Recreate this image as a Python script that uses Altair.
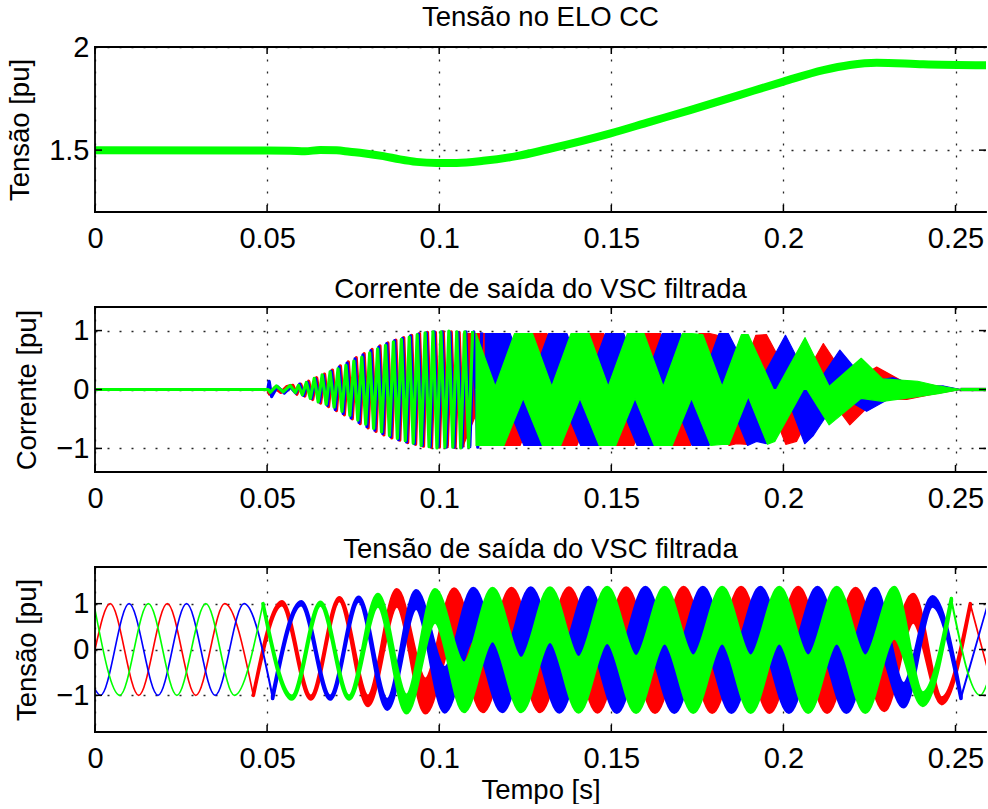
import altair as alt
import pandas as pd

RED, BLUE, GREEN = "#ff0000", "#0000ff", "#00ff00"
FONT = "Liberation Sans"
W, H = 891, 165
T_MAX = 0.25886

x_ticks = [0, 0.05, 0.1, 0.15, 0.2, 0.25]

# ---------------- Panel 1: DC link voltage ----------------
dc_t = [0, 0.045, 0.0567, 0.061, 0.0654, 0.0702, 0.074, 0.078, 0.0838, 0.0886, 0.0934,
        0.0993, 0.1051, 0.1128, 0.1225, 0.1312, 0.1498, 0.1612, 0.1729, 0.1874, 0.2,
        0.2116, 0.2193, 0.2271, 0.2406, 0.2594]
dc_v = [1.5, 1.498, 1.497, 1.494, 1.501, 1.499, 1.492, 1.485, 1.471, 1.455, 1.443,
        1.438, 1.438, 1.448, 1.471, 1.503, 1.581, 1.637, 1.694, 1.768, 1.832,
        1.888, 1.913, 1.924, 1.916, 1.911]
dc_yticks = [1.5, 2]

# ---------------- Panel 2: filtered VSC output current ----------------
cur_yticks = [-1, 0, 1]
HF_STEP = 0.00115      # half period of the fast oscillation
CUR_W = 0.0056         # half width of the clipped notches

cur_red_early_t = [0, 0.0502, 0.0507, 0.0522, 0.0540, 0.0557]
cur_red_early_v = [0, 0, -0.08, 0.03, -0.05, 0.05]
cur_blue_early_t = [0, 0.0502, 0.0506, 0.0513, 0.0530, 0.0550, 0.0568]
cur_blue_early_v = [0, 0, 0.14, -0.12, 0.05, -0.06, 0.04]
cur_green_early_t = [0, 0.0503, 0.0509, 0.0527, 0.0547, 0.0567, 0.0582]
cur_green_early_v = [0, 0, -0.05, 0.06, -0.04, 0.07, -0.05]

cur_red_hf_t0 = 0.0575
cur_red_hf = [0.07, -0.08, 0.09, -0.11, 0.14, -0.17, 0.20, -0.23, 0.26, -0.29,
              0.33, -0.36, 0.40, -0.43, 0.47, -0.50, 0.54, -0.58, 0.61, -0.65,
              0.68, -0.71, 0.74, -0.77, 0.79, -0.82, 0.84, -0.86, 0.88, -0.90,
              0.92, -0.93, 0.95, -0.96, 0.97, -0.98, 0.97, -0.98, 0.98, -0.97,
              0.98, -0.98, 0.97, -0.98, 0.98, -0.97, 0.98, -0.98, 0.97, -0.98]
cur_blue_hf_t0 = 0.0583
cur_blue_hf = [-0.06, 0.09, -0.10, 0.12, -0.15, 0.18, -0.21, 0.24, -0.27, 0.31,
               -0.34, 0.38, -0.41, 0.45, -0.48, 0.52, -0.56, 0.59, -0.63, 0.66,
               -0.69, 0.72, -0.75, 0.78, -0.80, 0.83, -0.85, 0.87, -0.89, 0.91,
               -0.92, 0.94, -0.95, 0.96, -0.97, 0.98, -0.97, 0.98, -0.98, 0.97,
               -0.98, 0.97, -0.98, 0.98, -0.97, 0.98, -0.98, 0.97, -0.98, 0.98]
cur_green_hf_t0 = 0.0591
cur_green_hf = [0.07, -0.09, 0.12, -0.15, 0.19, -0.21, 0.25, -0.25, 0.30, -0.30,
                0.35, -0.37, 0.41, -0.44, 0.48, -0.52, 0.55, -0.59, 0.62, -0.66,
                0.69, -0.72, 0.75, -0.78, 0.81, -0.83, 0.85, -0.87, 0.89, -0.91,
                0.93, -0.95, 0.96, -0.97, 0.98, -0.99, 0.98, -0.98, 0.99, -0.98,
                0.98, -0.99, 0.98, -0.98, 0.99, -0.98, 0.98, -0.99, 0.98, -0.98]

cur_red_bt = [0.1126, 0.1204, 0.1291, 0.1369, 0.1456, 0.1534, 0.1621, 0.1699, 0.1786,
              0.1864, 0.1951, 0.2038, 0.2116, 0.2193, 0.2271, 0.2358, 0.2434]
cur_red_hi = [0.95, 0.05, 0.95, 0.05, 0.95, 0.05, 0.95, 0.05, 0.95,
              0.05, 0.93, -0.02, 0.78, 0.1, 0.38, 0.1, 0.07]
cur_red_lo = [-0.15, -0.95, -0.15, -0.95, -0.15, -0.95, -0.15, -0.95, -0.15,
              -0.92, -0.1, -0.88, 0.0, -0.6, -0.15, -0.17, -0.08]

cur_blue_bt = [0.1190, 0.1262, 0.1355, 0.1427, 0.1519, 0.1592, 0.1679, 0.1757, 0.1840,
               0.1922, 0.2006, 0.2087, 0.2164, 0.2242, 0.2319, 0.2397, 0.2465]
cur_blue_hi = [0.95, 0.05, 0.95, 0.05, 0.95, 0.05, 0.95, 0.05, 0.95,
               0.02, 0.92, 0.0, 0.67, 0.12, 0.2, 0.05, 0.06]
cur_blue_lo = [-0.15, -0.95, -0.15, -0.95, -0.15, -0.95, -0.15, -0.95, -0.15,
               -0.88, -0.05, -0.78, -0.1, -0.37, -0.12, -0.1, -0.04]

cur_green_bt = [0.1163, 0.1244, 0.1327, 0.1409, 0.1491, 0.1569, 0.1651, 0.1733, 0.1822,
                0.1898, 0.1975, 0.2063, 0.2133, 0.2226, 0.2288, 0.2390, 0.2450]
cur_green_hi = [0.05, 0.95, 0.05, 0.95, 0.05, 0.95, 0.05, 0.95, 0.05,
                0.93, -0.05, 0.88, 0.05, 0.53, 0.18, 0.14, 0.06]
cur_green_lo = [-0.95, -0.15, -0.95, -0.15, -0.95, -0.15, -0.95, -0.15, -0.93,
                -0.12, -0.88, 0.05, -0.6, -0.15, -0.2, -0.12, -0.07]

cur_end_t = [0.2515, 0.2594]

# ---------------- Panel 3: filtered VSC output voltage ----------------
vol_yticks = [-1, 0, 1]
vol_red_t = [0, 0.0044, 0.0127, 0.0210, 0.0293, 0.0377, 0.0460, 0.0543, 0.0627, 0.0710,
             0.0793, 0.0877, 0.0960, 0.1043, 0.1127, 0.1210, 0.1293, 0.1377, 0.1460,
             0.1543, 0.1627, 0.1710, 0.1793, 0.1877, 0.1960, 0.2043, 0.2127, 0.2210,
             0.2293, 0.2377, 0.2460, 0.2543, 0.2594]
vol_red_hi = [0, 1, -1, 1, -1, 1, -1, 1.04, -1.02, 1.13, -1.02, 1.3, -0.65,
              1.32, -0.22, 1.33, -0.2, 1.34, -0.18, 1.34, -0.16, 1.35, -0.15, 1.35,
              -0.15, 1.35, -0.15, 1.33, -0.2, 1.2, -1.06, 1.0, -0.45]
vol_red_lo = [0, 1, -1, 1, -1, 1, -1, 0.98, -1.08, 1.07, -1.22, 0.95, -1.38,
              0.25, -1.35, 0.2, -1.35, 0.18, -1.36, 0.16, -1.37, 0.15, -1.37, 0.15,
              -1.37, 0.15, -1.37, 0.17, -1.33, 0.6, -1.18, 0.98, -0.45]
vol_red_split = [6, 31]

vol_blue_t = [0, 0.0016, 0.0099, 0.0183, 0.0266, 0.0349, 0.0433, 0.0516, 0.0599, 0.0683,
              0.0766, 0.0849, 0.0933, 0.1016, 0.1099, 0.1183, 0.1266, 0.1349, 0.1433,
              0.1516, 0.1599, 0.1683, 0.1766, 0.1849, 0.1933, 0.2016, 0.2099, 0.2183,
              0.2266, 0.2349, 0.2433, 0.2516, 0.2594]
vol_blue_hi = [-0.87, -1, 1, -1, 1, -1, 1, -1.01, 1.04, -1.02, 1.14, -1.1, 1.28,
               -0.4, 1.33, -0.2, 1.34, -0.18, 1.35, -0.16, 1.35, -0.15, 1.35, -0.15,
               1.35, -0.15, 1.35, -0.15, 1.33, -0.75, 1.15, -1.03, 1.0]
vol_blue_lo = [-0.87, -1, 1, -1, 1, -1, 1, -1.07, 0.98, -1.08, 1.06, -1.3, 0.9,
               -1.36, 0.22, -1.35, 0.18, -1.36, 0.16, -1.37, 0.15, -1.37, 0.15, -1.37,
               0.15, -1.37, 0.15, -1.37, 0.2, -1.25, 0.95, -1.07, 1.0]
vol_blue_split = [7, 31]

vol_green_t = [0, 0.0072, 0.0155, 0.0238, 0.0322, 0.0405, 0.0488, 0.0572, 0.0655, 0.0738,
               0.0822, 0.0905, 0.0988, 0.1072, 0.1155, 0.1238, 0.1322, 0.1405, 0.1488,
               0.1572, 0.1655, 0.1738, 0.1822, 0.1905, 0.1988, 0.2072, 0.2155, 0.2238,
               0.2322, 0.2405, 0.2488, 0.2572, 0.2594]
vol_green_hi = [0.87, -1, 1, -1, 1, -1, 1, -1.02, 1.03, -1.02, 1.2, -1.0, 1.3,
                -0.3, 1.33, -0.2, 1.34, -0.18, 1.35, -0.16, 1.35, -0.15, 1.35, -0.15,
                1.35, -0.15, 1.35, -0.15, 1.35, -0.95, 1.11, -1.0, -0.7]
vol_green_lo = [0.87, -1, 1, -1, 1, -1, 1, -1.08, 0.97, -1.08, 0.95, -1.38, 0.6,
                -1.35, 0.2, -1.35, 0.18, -1.36, 0.16, -1.37, 0.15, -1.37, 0.15, -1.37,
                0.15, -1.37, 0.15, -1.37, 0.25, -1.22, 1.05, -1.0, -0.7]
vol_green_split = [6, 30]


# ---------------- table builders ----------------
def cur_line_table(et, ev, t0, hf, band_start):
    rows = [(t, v, "a") for t, v in zip(et, ev)]
    for k, v in enumerate(hf):
        t = t0 + k * HF_STEP
        if t < band_start:
            rows.append((t, v, "a"))
    rows += [(t, 0.0, "b") for t in cur_end_t]
    return pd.DataFrame(rows, columns=["t", "y", "seg"])


def cur_edge_table(ts, his, los, upper):
    rows = []
    for i, (t, hi, lo) in enumerate(zip(ts, his, los)):
        cap = max(hi, -lo)
        val = hi if upper else lo
        edge = cap if upper else -cap
        notch = abs(val - edge) > 1e-9
        if i == 0 and not notch:
            rows.append((t - CUR_W, edge))
        if notch and cap >= 0.9:
            rows += [(t - CUR_W, edge), (t, val), (t + CUR_W, edge)]
        else:
            rows.append((t, val))
    rows.append((cur_end_t[0], 0.0))
    df = pd.DataFrame(rows, columns=["t", "y"])
    df["y2"] = 0.0
    return df


def vol_tables(ts, hi, lo, split):
    df = pd.DataFrame({"t": ts, "y": hi, "y2": lo})
    a, b = split
    thin = pd.concat([df.iloc[: a + 1].assign(seg="a"), df.iloc[b:].assign(seg="b")])
    thick = df.iloc[a: b + 1].assign(seg="m")
    return thin, thick


def make_panel(data_layers, ydom, yticks, ytitle, title, xtitle):
    def xe():
        return alt.X("t:Q", scale=alt.Scale(domain=[0, T_MAX], nice=False, zero=False),
                     axis=alt.Axis(values=x_ticks, format="~g", title=xtitle,
                                   labelFlush=False))

    def ye():
        return alt.Y("y:Q", scale=alt.Scale(domain=ydom, nice=False, zero=False),
                     axis=alt.Axis(values=yticks, format="~g", title=ytitle))

    layers = []
    for kind, df, color, sw, interp in data_layers:
        if kind == "line":
            m = alt.Chart(df).mark_line(color=color, strokeWidth=sw, interpolate=interp,
                                        clip=True, strokeJoin="round")
            enc = dict(x=xe(), y=ye())
            if "seg" in df.columns:
                enc["detail"] = "seg:N"
            layers.append(m.encode(**enc))
        else:
            m = alt.Chart(df).mark_area(color=color, stroke=color, strokeWidth=sw,
                                        interpolate=interp, clip=True, strokeJoin="round",
                                        opacity=1)
            enc = dict(x=xe(), y=ye(), y2=alt.Y2("y2:Q"))
            if "seg" in df.columns:
                enc["detail"] = "seg:N"
            layers.append(m.encode(**enc))

    xt = pd.DataFrame({"t": x_ticks})
    yt = pd.DataFrame({"y": yticks})
    one = pd.DataFrame({"a": [0]})
    tick_len = 7
    tk = dict(color="black", strokeWidth=1.5)
    layers.append(alt.Chart(xt).mark_rule(**tk).encode(x=xe(), y=alt.value(0), y2=alt.value(tick_len)))
    layers.append(alt.Chart(xt).mark_rule(**tk).encode(x=xe(), y=alt.value(H - tick_len), y2=alt.value(H)))
    layers.append(alt.Chart(yt).mark_rule(**tk).encode(y=ye(), x=alt.value(0), x2=alt.value(tick_len)))
    layers.append(alt.Chart(yt).mark_rule(**tk).encode(y=ye(), x=alt.value(W - tick_len), x2=alt.value(W)))
    fr = dict(color="black", strokeWidth=1.8, strokeCap="square")
    layers.append(alt.Chart(one).mark_rule(**fr).encode(x=alt.value(0), x2=alt.value(W), y=alt.value(0)))
    layers.append(alt.Chart(one).mark_rule(**fr).encode(x=alt.value(0), x2=alt.value(W), y=alt.value(H)))
    layers.append(alt.Chart(one).mark_rule(**fr).encode(x=alt.value(0), y=alt.value(0), y2=alt.value(H)))

    return alt.layer(*layers).properties(
        width=W, height=H, title=alt.TitleParams(title, frame="group"))


p1 = make_panel([("line", pd.DataFrame({"t": dc_t, "y": dc_v}), GREEN, 8, "monotone")],
                [1.2, 2], dc_yticks, "Tensão [pu]", "Tensão no ELO CC", None)

cur_layers = []
for col, et, ev, t0, hf, bt, bhi, blo in [
    (RED, cur_red_early_t, cur_red_early_v, cur_red_hf_t0, cur_red_hf,
     cur_red_bt, cur_red_hi, cur_red_lo),
    (BLUE, cur_blue_early_t, cur_blue_early_v, cur_blue_hf_t0, cur_blue_hf,
     cur_blue_bt, cur_blue_hi, cur_blue_lo),
    (GREEN, cur_green_early_t, cur_green_early_v, cur_green_hf_t0, cur_green_hf,
     cur_green_bt, cur_green_hi, cur_green_lo),
]:
    cur_layers.append(("line", cur_line_table(et, ev, t0, hf, bt[0] - CUR_W), col, 3.2, "linear"))
    cur_layers.append(("area", cur_edge_table(bt, bhi, blo, True), col, 1.2, "linear"))
    cur_layers.append(("area", cur_edge_table(bt, bhi, blo, False), col, 1.2, "linear"))

p2 = make_panel(cur_layers, [-1.4, 1.4], cur_yticks, "Corrente [pu]",
                "Corrente de saída do VSC filtrada", None)

vol_layers = []
for col, ts, hi, lo, split in [
    (RED, vol_red_t, vol_red_hi, vol_red_lo, vol_red_split),
    (BLUE, vol_blue_t, vol_blue_hi, vol_blue_lo, vol_blue_split),
    (GREEN, vol_green_t, vol_green_hi, vol_green_lo, vol_green_split),
]:
    thin, thick = vol_tables(ts, hi, lo, split)
    vol_layers.append(("area", thin, col, 1.6, "monotone"))
    vol_layers.append(("area", thick, col, 3.6, "monotone"))

p3 = make_panel(vol_layers, [-1.8, 1.8], vol_yticks, "Tensão [pu]",
                "Tensão de saída do VSC filtrada", "Tempo [s]")

chart = alt.VConcatChart(vconcat=[p1, p2, p3], spacing=95, bounds="flush").properties(
    padding={"left": 6, "top": 3, "right": 0, "bottom": 0}
).configure_view(strokeWidth=0).configure_axis(
    domain=False, ticks=False, grid=True, gridColor="black", gridDash=[2, 10],
    gridWidth=1.3, gridOpacity=0.85, labelFont=FONT, labelFontSize=29, labelColor="black",
    titleFont=FONT, titleFontSize=27.5, titleFontWeight="normal", titleColor="black",
    labelOverlap=False, labelBound=False
).configure_axisX(labelPadding=12, titlePadding=3).configure_axisY(
    labelPadding=6, titlePadding=14
).configure_title(
    font=FONT, fontSize=27.5, fontWeight="normal", color="black", anchor="middle",
    baseline="alphabetic", offset=2
)

chart.save("out.html", embed_options={"renderer": "svg", "actions": False})
